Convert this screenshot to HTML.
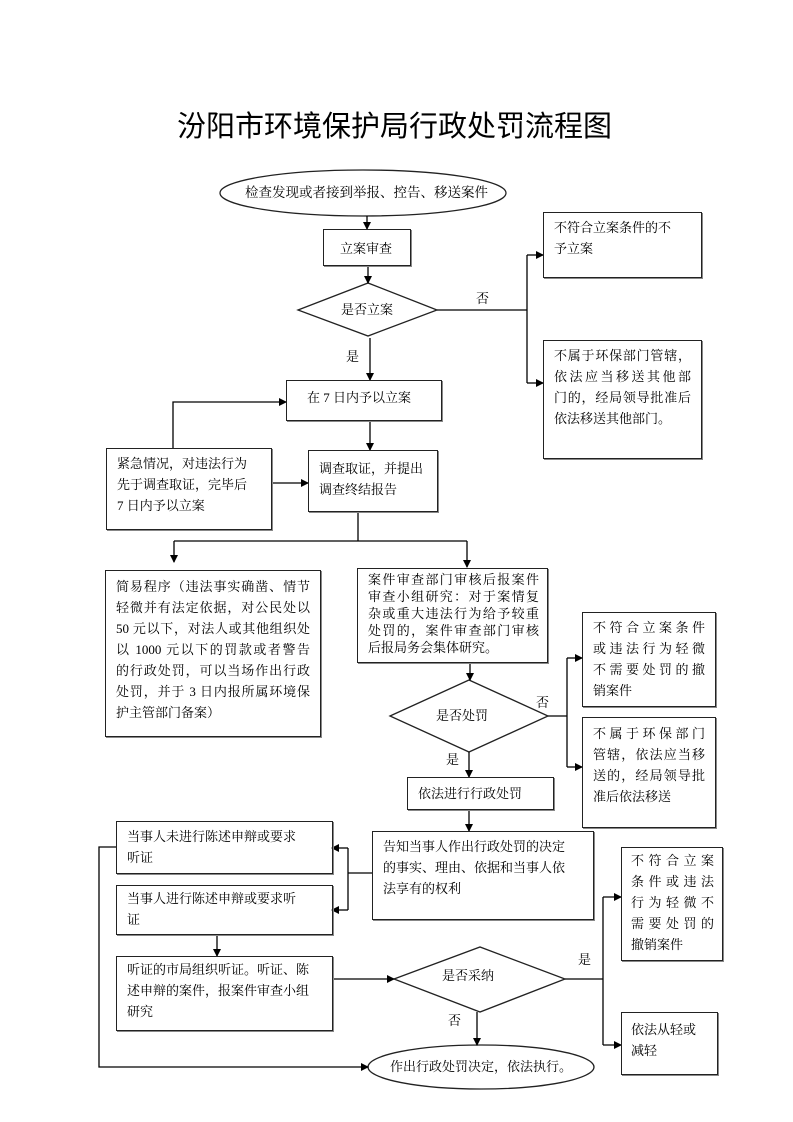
<!DOCTYPE html>
<html><head><meta charset="utf-8">
<style>
html,body{margin:0;padding:0;background:#fff;}
body{width:793px;height:1122px;position:relative;overflow:hidden;font-family:"Liberation Serif","Noto Serif CJK SC",serif;color:#000;}
.b{position:absolute;border:1.3px solid #222;box-shadow:1px 1px 0 #888;box-sizing:border-box;font-size:13px;line-height:21px;padding:6px 8px 0 10px;}
.j div{text-align:justify;text-align-last:justify;}
.j div.l{text-align-last:left;}
.t{position:absolute;font-size:13px;line-height:16px;white-space:nowrap;}
svg{position:absolute;left:0;top:0;}
</style></head><body>
<div class="t" style="left:177px;top:110px;font-size:29px;line-height:34px;font-family:'Liberation Sans','Noto Sans CJK SC',sans-serif;">汾阳市环境保护局行政处罚流程图</div>

<svg width="793" height="1122" viewBox="0 0 793 1122">
<defs><marker id="a" markerWidth="8" markerHeight="8" refX="7" refY="4" orient="auto" markerUnits="userSpaceOnUse"><path d="M0,0 L8,4 L0,8 z" fill="#000"/></marker></defs>
<g fill="none" stroke="#222" stroke-width="1.3">
<ellipse cx="363" cy="193" rx="143" ry="23"/>
<ellipse cx="481" cy="1067" rx="113" ry="22"/>
<polygon points="298,310 368,283 437,310 368,336"/>
<polygon points="390,716 469,680 548,716 469,752"/>
<polygon points="394,979 480,947 565,979 480,1012"/>
</g>
<g fill="none" stroke="#000" stroke-width="1.3">
<line x1="367" y1="216" x2="367" y2="229" marker-end="url(#a)"/>
<line x1="368" y1="265" x2="368" y2="283" marker-end="url(#a)"/>
<polyline points="437,310 527,310"/>
<line x1="527" y1="255" x2="527" y2="383"/>
<line x1="527" y1="255" x2="543" y2="255" marker-end="url(#a)"/>
<line x1="527" y1="383" x2="543" y2="383" marker-end="url(#a)"/>
<line x1="370" y1="338" x2="370" y2="380" marker-end="url(#a)"/>
<line x1="370" y1="420" x2="370" y2="450" marker-end="url(#a)"/>
<polyline points="173,448 173,402 286,402" marker-end="url(#a)"/>
<line x1="271" y1="483" x2="308" y2="483" marker-end="url(#a)"/>
<line x1="358" y1="511" x2="358" y2="541"/>
<line x1="174" y1="541" x2="467" y2="541"/>
<line x1="174" y1="541" x2="174" y2="562" marker-end="url(#a)"/>
<line x1="467" y1="541" x2="467" y2="567" marker-end="url(#a)"/>
<line x1="470" y1="662" x2="470" y2="680" marker-end="url(#a)"/>
<line x1="548" y1="716" x2="567" y2="716"/>
<line x1="567" y1="658" x2="567" y2="767"/>
<line x1="567" y1="658" x2="582" y2="658" marker-end="url(#a)"/>
<line x1="567" y1="767" x2="582" y2="767" marker-end="url(#a)"/>
<line x1="469" y1="752" x2="469" y2="777" marker-end="url(#a)"/>
<line x1="469" y1="809" x2="469" y2="831" marker-end="url(#a)"/>
<line x1="372" y1="873" x2="348" y2="873"/>
<line x1="348" y1="848" x2="348" y2="910"/>
<line x1="348" y1="848" x2="332" y2="848" marker-end="url(#a)"/>
<line x1="348" y1="910" x2="332" y2="910" marker-end="url(#a)"/>
<line x1="217" y1="934" x2="217" y2="956" marker-end="url(#a)"/>
<line x1="332" y1="979" x2="394" y2="979" marker-end="url(#a)"/>
<line x1="565" y1="979" x2="603" y2="979"/>
<line x1="603" y1="897" x2="603" y2="1045"/>
<line x1="603" y1="897" x2="621" y2="897" marker-end="url(#a)"/>
<line x1="603" y1="1045" x2="621" y2="1045" marker-end="url(#a)"/>
<line x1="477" y1="1012" x2="477" y2="1045" marker-end="url(#a)"/>
<polyline points="116,847 99,847 99,1067 368,1067" marker-end="url(#a)"/>
</g>
</svg>

<div class="t" style="left:245px;top:185px;font-size:13.5px;">检查发现或者接到举报、控告、移送案件</div>
<div class="b" style="left:323px;top:229px;width:88px;height:37px;padding:8px 0 0 16px;">立案审查</div>
<div class="t" style="left:341px;top:302px;">是否立案</div>
<div class="t" style="left:476px;top:291px;">否</div>
<div class="t" style="left:346px;top:349px;">是</div>
<div class="b" style="left:543px;top:212px;width:159px;height:66px;padding-top:4px;">不符合立案条件的不<br>予立案</div>
<div class="b j" style="left:543px;top:340px;width:159px;height:119px;padding:4px 10px 0 10px;"><div>不属于环保部门管辖，</div><div>依法应当移送其他部</div><div>门的，经局领导批准后</div><div class="l">依法移送其他部门。</div></div>
<div class="b" style="left:286px;top:380px;width:156px;height:41px;padding:6px 0 0 20px;">在 7 日内予以立案</div>
<div class="b" style="left:308px;top:450px;width:130px;height:62px;padding-top:7px;">调查取证，并提出<br>调查终结报告</div>
<div class="b" style="left:106px;top:448px;width:166px;height:82px;padding:4px 8px 0 10px;">紧急情况，对违法行为<br>先于调查取证，完毕后<br>7 日内予以立案</div>
<div class="b j" style="left:105px;top:570px;width:216px;height:167px;padding:5px 10px 0 10px;"><div>简易程序（违法事实确凿、情节</div><div>轻微并有法定依据，对公民处以</div><div>50 元以下，对法人或其他组织处</div><div>以 1000 元以下的罚款或者警告</div><div>的行政处罚，可以当场作出行政</div><div>处罚，并于 3 日内报所属环境保</div><div class="l">护主管部门备案）</div></div>
<div class="b j" style="left:357px;top:568px;width:191px;height:95px;padding:2px 8px 0 10px;line-height:17px;"><div>案件审查部门审核后报案件</div><div>审查小组研究：对于案情复</div><div>杂或重大违法行为给予较重</div><div>处罚的，案件审查部门审核</div><div class="l">后报局务会集体研究。</div></div>
<div class="t" style="left:436px;top:708px;">是否处罚</div>
<div class="t" style="left:536px;top:695px;">否</div>
<div class="t" style="left:446px;top:752px;">是</div>
<div class="b j" style="left:582px;top:612px;width:134px;height:95px;padding:4px 10px 0 10px;"><div>不符合立案条件</div><div>或违法行为轻微</div><div>不需要处罚的撤</div><div class="l">销案件</div></div>
<div class="b j" style="left:582px;top:717px;width:134px;height:111px;padding:5px 10px 0 10px;"><div>不属于环保部门</div><div>管辖，依法应当移</div><div>送的，经局领导批</div><div class="l">准后依法移送</div></div>
<div class="b" style="left:407px;top:777px;width:147px;height:33px;padding:5px 0 0 10px;">依法进行行政处罚</div>
<div class="b" style="left:372px;top:831px;width:222px;height:89px;padding:4px 8px 0 10px;">告知当事人作出行政处罚的决定<br>的事实、理由、依据和当事人依<br>法享有的权利</div>
<div class="b" style="left:116px;top:821px;width:217px;height:53px;padding:4px 8px 0 10px;">当事人未进行陈述申辩或要求<br>听证</div>
<div class="b" style="left:116px;top:885px;width:217px;height:50px;padding:2px 8px 0 10px;">当事人进行陈述申辩或要求听<br>证</div>
<div class="b" style="left:116px;top:956px;width:217px;height:75px;padding:2px 8px 0 10px;">听证的市局组织听证。听证、陈<br>述申辩的案件，报案件审查小组<br>研究</div>
<div class="t" style="left:442px;top:968px;">是否采纳</div>
<div class="t" style="left:578px;top:952px;">是</div>
<div class="t" style="left:448px;top:1013px;">否</div>
<div class="b j" style="left:621px;top:847px;width:102px;height:114px;padding:2px 8px 0 9px;"><div>不符合立案</div><div>条件或违法</div><div>行为轻微不</div><div>需要处罚的</div><div class="l">撤销案件</div></div>
<div class="b" style="left:621px;top:1012px;width:97px;height:63px;padding:6px 8px 0 9px;">依法从轻或<br>减轻</div>
<div class="t" style="left:390px;top:1059px;">作出行政处罚决定，依法执行。</div>
</body></html>
